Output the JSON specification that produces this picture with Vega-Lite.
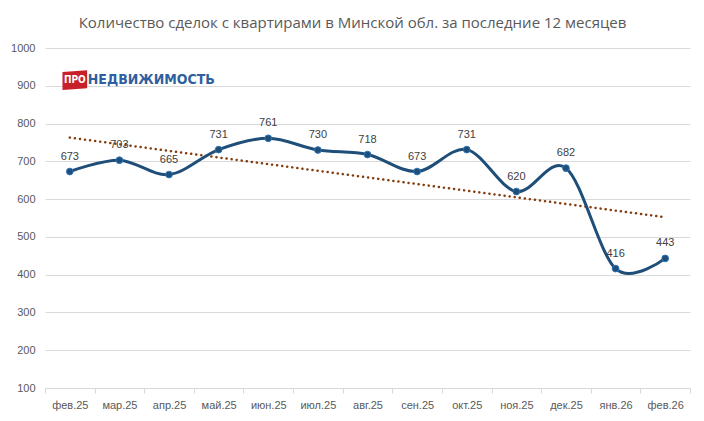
{
  "$schema": "https://vega.github.io/schema/vega-lite/v6.json",
  "autosize": {"type": "none"},
  "padding": {"left": 45, "top": 48, "right": 14, "bottom": 33},
  "width": 645,
  "height": 340,
  "background": "#ffffff",
  "title": {
    "text": "Количество сделок с квартирами в Минской обл. за последние 12 месяцев",
    "font": "Open Sans",
    "fontSize": 15,
    "fontWeight": "normal",
    "color": "#595959",
    "offset": 11,
    "dx": -15
  },
  "datasets": {
    "sales": [
      {"i": 0, "month": "фев.25", "value": 673},
      {"i": 1, "month": "мар.25", "value": 703},
      {"i": 2, "month": "апр.25", "value": 665},
      {"i": 3, "month": "май.25", "value": 731},
      {"i": 4, "month": "июн.25", "value": 761},
      {"i": 5, "month": "июл.25", "value": 730},
      {"i": 6, "month": "авг.25", "value": 718},
      {"i": 7, "month": "сен.25", "value": 673},
      {"i": 8, "month": "окт.25", "value": 731},
      {"i": 9, "month": "ноя.25", "value": 620},
      {"i": 10, "month": "дек.25", "value": 682},
      {"i": 11, "month": "янв.26", "value": 416},
      {"i": 12, "month": "фев.26", "value": 443}
    ]
  },
  "data": {"name": "sales"},
  "config": {
    "view": {"stroke": null},
    "axis": {"labelFont": "Liberation Sans", "labelFontSize": 11, "labelColor": "#595959", "title": null}
  },
  "encoding": {
    "x": {
      "field": "month",
      "type": "ordinal",
      "sort": ["фев.25", "мар.25", "апр.25", "май.25", "июн.25", "июл.25", "авг.25", "сен.25", "окт.25", "ноя.25", "дек.25", "янв.26", "фев.26"],
      "scale": {"type": "band", "paddingInner": 0, "paddingOuter": 0},
      "axis": {
        "labelAngle": 0,
        "domainColor": "#d9d9d9",
        "tickColor": "#d9d9d9",
        "tickSize": 5,
        "tickBand": "extent",
        "labelPadding": 6,
        "grid": false
      }
    },
    "y": {
      "field": "value",
      "type": "quantitative",
      "scale": {"domain": [100, 1000], "nice": false},
      "axis": {
        "values": [100, 200, 300, 400, 500, 600, 700, 800, 900, 1000],
        "format": "d",
        "domain": false,
        "ticks": false,
        "labelPadding": 10,
        "gridColor": "#d9d9d9",
        "gridWidth": 1
      }
    }
  },
  "layer": [
    {
      "transform": [
        {"regression": "value", "on": "i", "extent": [0, 12]},
        {"lookup": "i", "from": {"data": {"name": "sales"}, "key": "i", "fields": ["month"]}}
      ],
      "mark": {"type": "line", "color": "#843c0c", "strokeWidth": 2.5, "strokeDash": [0.1, 5], "strokeCap": "round"}
    },
    {
      "mark": {"type": "line", "color": "#1f4e79", "strokeWidth": 3, "interpolate": "cardinal"}
    },
    {
      "mark": {"type": "point", "filled": true, "size": 45, "color": "#1f4e79", "stroke": "#2e75b6", "strokeWidth": 1, "opacity": 1}
    },
    {
      "mark": {"type": "text", "dy": -15, "font": "Liberation Sans", "fontSize": 11, "color": "#404040"},
      "encoding": {"text": {"field": "value", "type": "quantitative"}}
    },
    {
      "transform": [{"filter": "datum.i == 0"}],
      "mark": {"type": "point", "shape": "M-1.45,-0.95L1.45,-1.15L1.45,0.95L-1.45,1.15Z", "filled": true, "size": 290, "color": "#c8202b", "opacity": 1, "xOffset": 5},
      "encoding": {"y": {"datum": 915}}
    },
    {
      "transform": [{"filter": "datum.i == 0"}],
      "mark": {"type": "text", "text": "ПРО", "font": "DejaVu Sans Condensed", "fontSize": 10, "fontWeight": "bold", "color": "#ffffff", "xOffset": 5},
      "encoding": {"y": {"datum": 915}}
    },
    {
      "transform": [{"filter": "datum.i == 0"}],
      "mark": {"type": "text", "text": "НЕДВИЖИМОСТЬ", "align": "left", "font": "DejaVu Sans Condensed", "fontSize": 14, "fontWeight": "bold", "color": "#2f5f9e", "xOffset": 18},
      "encoding": {"y": {"datum": 915}}
    }
  ]
}
